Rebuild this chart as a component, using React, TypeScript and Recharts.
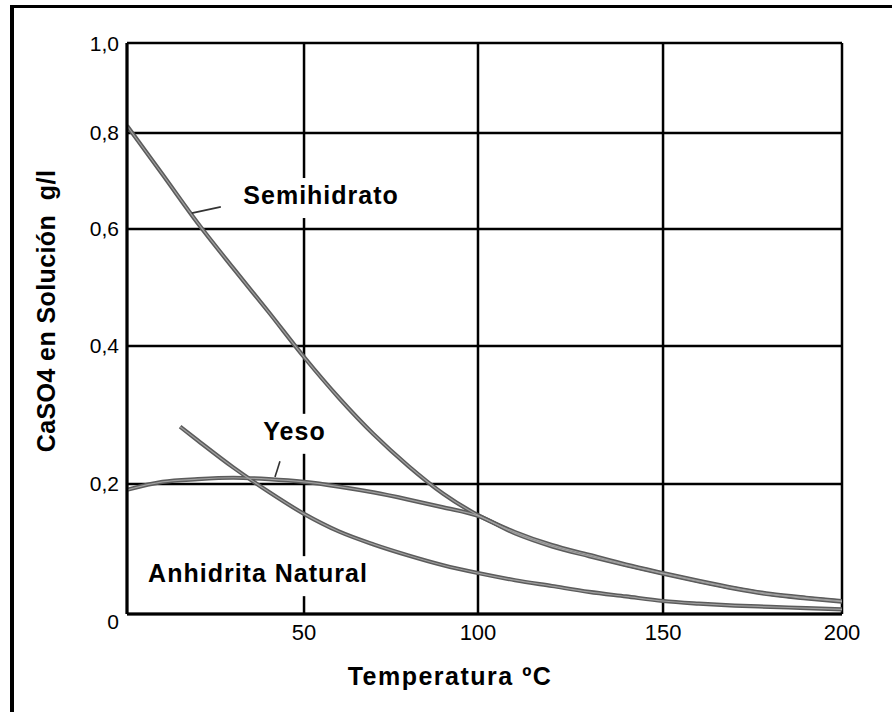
import React from 'react';
import { LineChart, Line, XAxis, YAxis, CartesianGrid, ReferenceDot, ReferenceLine } from 'recharts';

// ---- data ----
const xTicks = [50, 100, 150, 200];
const yTicks = [0, 0.2, 0.4, 0.6, 0.8, 1.0];

const semihidratoT = [0, 10, 20, 30, 40, 50, 60, 70, 80, 90, 100, 110, 120, 130, 140, 150, 160, 170, 180, 190, 200];
const semihidratoV = [0.816, 0.714, 0.612, 0.533, 0.458, 0.384, 0.325, 0.272, 0.226, 0.185, 0.152, 0.126, 0.106, 0.091, 0.076, 0.063, 0.051, 0.04, 0.031, 0.025, 0.02];

const yesoT = [0, 10, 20, 30, 40, 50, 60, 70, 80, 90, 100, 110, 120, 130, 140, 150, 160, 170, 180, 190, 200];
const yesoV = [0.191, 0.203, 0.207, 0.209, 0.207, 0.203, 0.196, 0.187, 0.176, 0.164, 0.151, 0.124, 0.104, 0.089, 0.075, 0.062, 0.05, 0.039, 0.03, 0.024, 0.019];

const anhidritaT = [15, 20, 30, 40, 50, 60, 70, 80, 90, 100, 110, 120, 130, 140, 150, 160, 170, 180, 190, 200];
const anhidritaV = [0.283, 0.263, 0.224, 0.188, 0.154, 0.127, 0.107, 0.09, 0.075, 0.063, 0.052, 0.043, 0.034, 0.027, 0.02, 0.016, 0.013, 0.011, 0.009, 0.007];

const seriesNames = ['Semihidrato', 'Yeso', 'Anhidrita Natural'];
const labelT = [54.9, 47.3, 37.0];
const labelV = [0.652, 0.264, 0.049];

const leaderSemihidrato = [{ x: 18.3, y: 0.633 }, { x: 26.5, y: 0.646 }];
const leaderYeso = [{ x: 41.8, y: 0.21 }, { x: 43.2, y: 0.233 }];

// ---- styling / layout ----
const FONT = '"Liberation Sans", Arial, Helvetica, sans-serif';
// the scanned grid is not evenly spaced: relative positions of the grid knots
const X_GRID_FRACTIONS = [0, 0.2476, 0.4909, 0.7497, 1];
const Y_GRID_FRACTIONS = [0, 0.2277, 0.4694, 0.6743, 0.8424, 1];
const LABEL_WIDTHS = [158, 65, 220];

function makePiecewiseScale(knots: number[], fracs: number[]): any {
  let dom: number[] = [knots[0], knots[knots.length - 1]];
  let rng: number[] = [0, 1];
  const toFrac = (v: number) => {
    const n = knots.length;
    let i = 1;
    while (i < n - 1 && v > knots[i]) i++;
    const t = (v - knots[i - 1]) / (knots[i] - knots[i - 1]);
    return fracs[i - 1] + t * (fracs[i] - fracs[i - 1]);
  };
  const fromFrac = (f: number) => {
    const n = fracs.length;
    let i = 1;
    while (i < n - 1 && f > fracs[i]) i++;
    const t = (f - fracs[i - 1]) / (fracs[i] - fracs[i - 1]);
    return knots[i - 1] + t * (knots[i] - knots[i - 1]);
  };
  const scale: any = (v: any) => {
    const f = toFrac(Number(v));
    return rng[0] + f * (rng[rng.length - 1] - rng[0]);
  };
  scale.domain = (d?: any) => {
    if (d === undefined) return dom.slice();
    dom = Array.from(d as number[]);
    return scale;
  };
  scale.range = (r?: any) => {
    if (r === undefined) return rng.slice();
    rng = Array.from(r as number[]);
    return scale;
  };
  scale.copy = () => makePiecewiseScale(knots, fracs).domain(dom).range(rng);
  scale.ticks = () => knots.slice();
  scale.tickFormat = () => (v: number) => String(v);
  scale.invert = (px: number) => fromFrac((px - rng[0]) / (rng[rng.length - 1] - rng[0]));
  scale.clamp = () => scale;
  scale.nice = () => scale;
  return scale;
}

const xScale = makePiecewiseScale([0, ...xTicks], X_GRID_FRACTIONS);
const yScale = makePiecewiseScale(yTicks, Y_GRID_FRACTIONS);

const toRows = (ts: number[], vs: number[]) => ts.map((t, i) => ({ t, v: vs[i] }));
const semihidratoData = toRows(semihidratoT, semihidratoV);
const yesoData = toRows(yesoT, yesoV);
const anhidritaData = toRows(anhidritaT, anhidritaV);
const allSeries = [semihidratoData, yesoData, anhidritaData];

const fmtY = (v: number) => (v === 0 ? '0' : v.toFixed(1).replace('.', ','));

const YTick = (props: any) => {
  const { x, y, payload } = props;
  const isZero = payload.value === 0;
  return (
    <text x={x} y={y} dy={isZero ? 15 : 7.5} textAnchor="end" fontFamily={FONT} fontSize={21} fill="#000">
      {fmtY(payload.value)}
    </text>
  );
};

const XTick = (props: any) => {
  const { x, y, payload } = props;
  return (
    <text x={x} y={y} dy={26} textAnchor="middle" fontFamily={FONT} fontSize={22} fill="#000">
      {String(payload.value)}
    </text>
  );
};

const makeLabelShape = (text: string, w: number) => (p: any) => (
  <g>
    <rect x={p.cx - w / 2 - 4} y={p.cy - 26} width={w + 8} height={40} fill="#fff" />
    <text
      x={p.cx}
      y={p.cy}
      textAnchor="middle"
      fontFamily={FONT}
      fontWeight="bold"
      fontSize={25}
      letterSpacing={1}
      fill="#000"
    >
      {text}
    </text>
  </g>
);

export default function App() {
  return (
    <div
      style={{
        position: 'absolute',
        left: 0,
        top: 0,
        width: 892,
        height: 712,
        background: '#fff',
        overflow: 'hidden',
      }}
    >
      <div
        style={{
          position: 'absolute',
          left: 10,
          top: 5,
          width: 900,
          height: 720,
          borderLeft: '4px solid #000',
          borderTop: '3px solid #000',
        }}
      />
      <div style={{ position: 'absolute', left: 0, top: 0 }}>
        <LineChart width={892} height={712} margin={{ top: 43, right: 50, bottom: 96, left: 125 }}>
          <CartesianGrid stroke="#000" strokeWidth={2.5} />
          <XAxis
            dataKey="t"
            type="number"
            domain={[0, 200]}
            scale={xScale}
            ticks={xTicks}
            interval={0}
            height={2}
            tickSize={0}
            tickMargin={0}
            tickLine={false}
            axisLine={{ stroke: '#000', strokeWidth: 3 }}
            tick={<XTick />}
            allowDataOverflow
          />
          <YAxis
            dataKey="v"
            type="number"
            domain={[0, 1]}
            scale={yScale}
            ticks={yTicks}
            interval={0}
            width={2}
            tickSize={0}
            tickMargin={8}
            tickLine={false}
            axisLine={{ stroke: '#000', strokeWidth: 3 }}
            tick={<YTick />}
            allowDataOverflow
          />
          {allSeries.map((d, i) => (
            <Line
              key={'o' + i}
              data={d}
              dataKey="v"
              type="monotone"
              stroke="#5c5c5c"
              strokeWidth={4.2}
              dot={false}
              activeDot={false}
              isAnimationActive={false}
            />
          ))}
          {allSeries.map((d, i) => (
            <Line
              key={'i' + i}
              data={d}
              dataKey="v"
              type="monotone"
              stroke="#a0a0a0"
              strokeWidth={1.2}
              dot={false}
              activeDot={false}
              isAnimationActive={false}
            />
          ))}
          <ReferenceLine segment={leaderSemihidrato} stroke="#333" strokeWidth={1.6} ifOverflow="visible" />
          <ReferenceLine segment={leaderYeso} stroke="#333" strokeWidth={1.6} ifOverflow="visible" />
          {seriesNames.map((name, i) => (
            <ReferenceDot
              key={name}
              x={labelT[i]}
              y={labelV[i]}
              r={0}
              ifOverflow="visible"
              shape={makeLabelShape(name, LABEL_WIDTHS[i])}
            />
          ))}
        </LineChart>
      </div>
      <svg
        width={892}
        height={712}
        style={{ position: 'absolute', left: 0, top: 0, pointerEvents: 'none' }}
      >
        <text
          x={450}
          y={685}
          textAnchor="middle"
          fontFamily={FONT}
          fontWeight="bold"
          fontSize={25}
          letterSpacing={1.5}
          fill="#000"
        >
          Temperatura ºC
        </text>
        <text
          x={55}
          y={311}
          transform="rotate(-90 55 311)"
          textAnchor="middle"
          fontFamily={FONT}
          fontWeight="bold"
          fontSize={25}
          letterSpacing={0.4}
          fill="#000"
        >
          {'CaSO4 en Solución\u00a0\u00a0g/l'}
        </text>
      </svg>
    </div>
  );
}
